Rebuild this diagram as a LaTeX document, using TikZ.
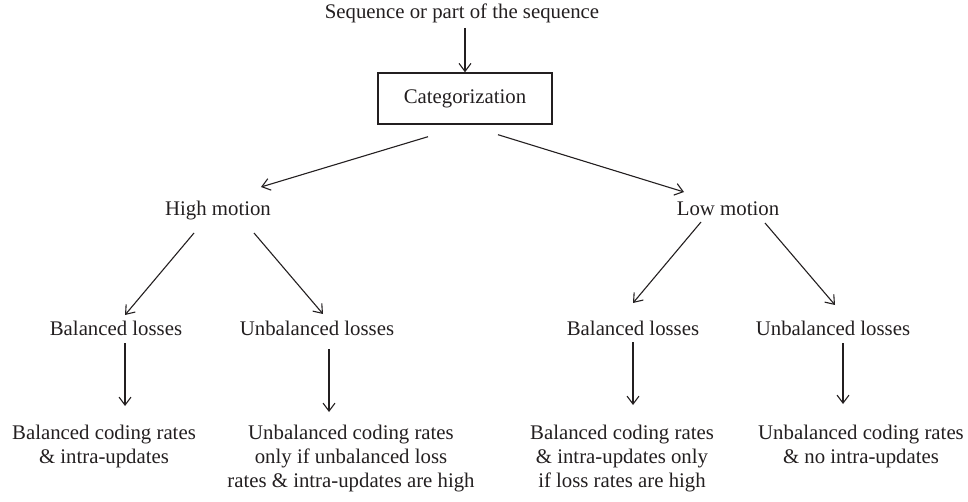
\documentclass[tikz,border=0pt]{standalone}
\usepackage{fontspec}
\setmainfont{Liberation Serif}
\usetikzlibrary{arrows.meta}
\usetikzlibrary{calc}
\definecolor{ink}{RGB}{35,31,32}

\begin{document}
\begin{tikzpicture}[x=0.5pt,y=-0.5pt,
    every node/.style={text=ink,font=\fontsize{10.4}{12}\selectfont,inner sep=2pt},
    lbl/.style={anchor=base,align=center},
    arr/.style={draw=ink,line width=0.55pt,-{Straight Barb[length=4pt,width=6pt]}}]

    \useasboundingbox (0,0) rectangle (968,502);

    % top of the tree
    \node[lbl] (seq) at (462,19) {Sequence or part of the sequence};
    \node[draw=ink,line width=0.7pt,minimum width=87pt,minimum height=25.5pt] (cat) at (465,98.5) {Categorization};
    \draw[arr] (seq.south -| cat.north) -- (cat.north);

    % motion classes
    \node[lbl] (high) at (218,215) {High motion};
    \node[lbl] (low) at (728,215) {Low motion};
    \draw[arr] ($(cat.south)+(-37,12)$) -- ($(high.base)+(43,-28)$);
    \draw[arr] ($(cat.south)+(33,10)$) -- ($(low.base)+(-44,-23)$);

    % loss classes
    \node[lbl] (hbal) at (116,335) {Balanced losses};
    \node[lbl] (hunb) at (317,335) {Unbalanced losses};
    \node[lbl] (lbal) at (633,335) {Balanced losses};
    \node[lbl] (lunb) at (833,335) {Unbalanced losses};
    \draw[arr] ($(high.base)+(-24,18)$) -- ($(hbal.base)+(9,-20)$);
    \draw[arr] ($(high.base)+(36,18)$) -- ($(hunb.base)+(6,-21)$);
    \draw[arr] ($(low.base)+(-27,7)$) -- ($(lbal.base)+(0,-32)$);
    \draw[arr] ($(low.base)+(37,8)$) -- ($(lunb.base)+(2,-30)$);

    % decisions (base = last line)
    \node[lbl] (hbalout) at (104,463) {Balanced coding rates\\\& intra-updates};
    \node[lbl] (hunbout) at (351,487) {Unbalanced coding rates\\only if unbalanced loss\\rates \& intra-updates are high};
    \node[lbl] (lbalout) at (622,487) {Balanced coding rates\\\& intra-updates only\\if loss rates are high};
    \node[lbl] (lunbout) at (861,463) {Unbalanced coding rates\\\& no intra-updates};
    \draw[arr] ($(hbal.base)+(9,8)$) -- ($(hbalout.base)+(21,-57)$);
    \draw[arr] ($(hunb.base)+(12,14)$) -- ($(hunbout.base)+(-22,-75)$);
    \draw[arr] ($(lbal.base)+(0,7)$) -- ($(lbalout.base)+(11,-82)$);
    \draw[arr] ($(lunb.base)+(10,8)$) -- ($(lunbout.base)+(-18,-59)$);

\end{tikzpicture}
\end{document}
